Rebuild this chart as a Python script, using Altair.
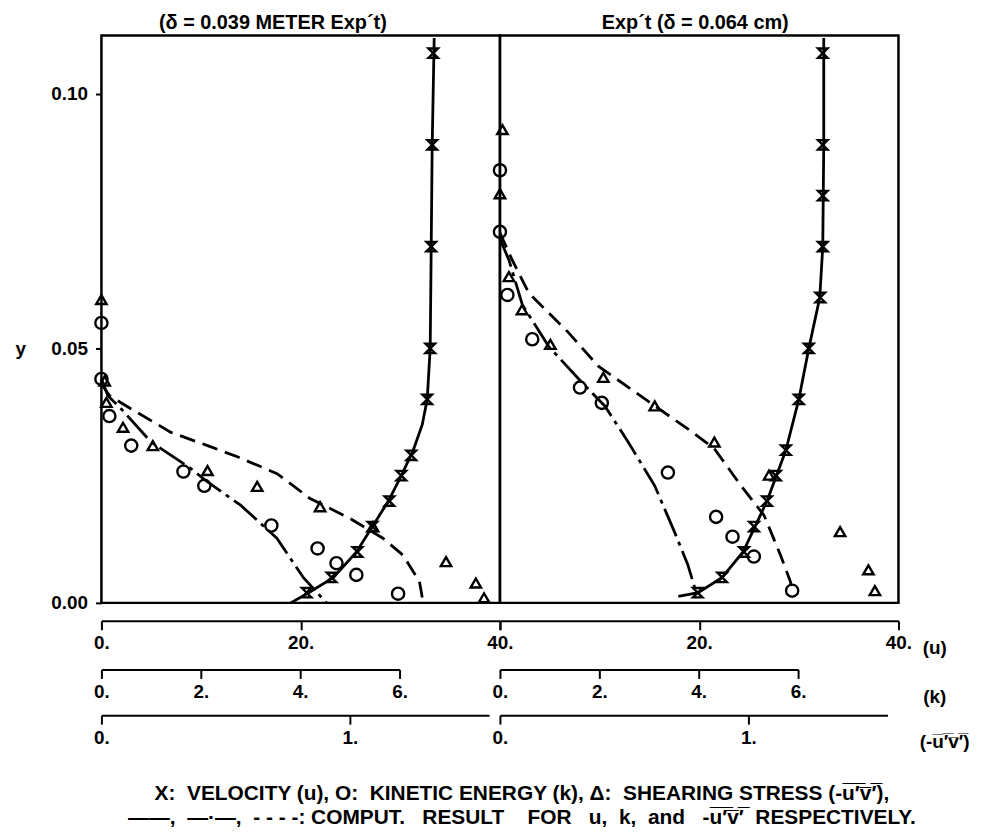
import altair as alt
import pandas as pd

# ---------------- data ----------------
# tick values of the stacked scales
U_TICKS = [0, 20, 40]
K_TICKS = [0, 2, 4, 6]
UV_TICKS = [0, 1]
Y_TICKS = [0.0, 0.05, 0.10]

# Left panel  (delta = 0.039 m)
L_U_Y = [0.108, 0.090, 0.070, 0.050, 0.040, 0.029, 0.025, 0.020, 0.015, 0.010, 0.005, 0.002]
L_U = [33.3, 33.2, 33.1, 33.0, 32.7, 31.1, 30.1, 28.9, 27.2, 25.7, 23.1, 20.6]
L_U_LINE_Y = [0.111, 0.090, 0.070, 0.050, 0.040, 0.035, 0.030, 0.025, 0.020, 0.015, 0.010, 0.005, 0.002, 0.0]
L_U_LINE = [33.4, 33.2, 33.1, 33.0, 32.7, 32.2, 31.3, 30.1, 28.8, 27.2, 25.6, 23.3, 20.8, 19.0]

L_K_Y = [0.055, 0.044, 0.0367, 0.0309, 0.0258, 0.0230, 0.0152, 0.0107, 0.0078, 0.0055, 0.0018]
L_K = [0.0, 0.0, 0.16, 0.60, 1.65, 2.07, 3.42, 4.35, 4.73, 5.13, 5.97]
L_K_LINE_Y = [0.044, 0.0407, 0.0381, 0.0316, 0.0264, 0.0238, 0.0192, 0.0127, 0.0049, 0.0]
L_K_LINE = [0.0, 0.13, 0.40, 1.00, 1.80, 2.13, 2.80, 3.53, 4.07, 4.53]

L_UV_Y = [0.0596, 0.0436, 0.0394, 0.0345, 0.0309, 0.0260, 0.0229, 0.0189, 0.0150, 0.0081, 0.0039, 0.0010]
L_UV = [0.0, 0.013, 0.020, 0.087, 0.207, 0.427, 0.627, 0.880, 1.093, 1.387, 1.507, 1.540]
L_UV_LINE_Y = [0.043, 0.0407, 0.0381, 0.0335, 0.0309, 0.0287, 0.0254, 0.0205, 0.0166, 0.0127, 0.0094, 0.0042, 0.0006]
L_UV_LINE = [0.0, 0.033, 0.120, 0.280, 0.427, 0.547, 0.707, 0.840, 1.000, 1.133, 1.213, 1.280, 1.293]

# Right panel  (delta = 0.064 cm)
R_U_Y = [0.108, 0.090, 0.080, 0.070, 0.060, 0.050, 0.040, 0.030, 0.025, 0.020, 0.015, 0.010, 0.005, 0.002]
R_U = [32.4, 32.4, 32.4, 32.4, 32.15, 31.0, 30.0, 28.7, 27.7, 26.8, 25.5, 24.5, 22.3, 19.85]
R_U_LINE_Y = [0.111, 0.090, 0.070, 0.060, 0.050, 0.040, 0.030, 0.020, 0.015, 0.010, 0.005, 0.002, 0.0013]
R_U_LINE = [32.5, 32.5, 32.4, 32.1, 31.0, 30.0, 28.7, 26.8, 25.6, 24.4, 22.3, 19.9, 17.9]

R_K_Y = [0.085, 0.0729, 0.0605, 0.0518, 0.0423, 0.0393, 0.0256, 0.0169, 0.0130, 0.0091, 0.0024]
R_K = [0.0, 0.0, 0.15, 0.65, 1.61, 2.05, 3.38, 4.35, 4.68, 5.11, 5.88]
R_K_LINE_Y = [0.0715, 0.0674, 0.0586, 0.0504, 0.0433, 0.0387, 0.0316, 0.0231, 0.0140, 0.0075, 0.0020]
R_K_LINE = [0.0, 0.18, 0.45, 0.98, 1.65, 2.11, 2.58, 3.11, 3.51, 3.78, 3.95]

R_UV_Y = [0.093, 0.0804, 0.0641, 0.0576, 0.0508, 0.0443, 0.0387, 0.0316, 0.0251, 0.0140, 0.0065, 0.0024]
R_UV = [0.01, 0.0, 0.036, 0.089, 0.203, 0.416, 0.623, 0.863, 1.083, 1.369, 1.483, 1.509]
R_UV_LINE_Y = [0.0727, 0.0674, 0.0609, 0.0531, 0.0465, 0.0387, 0.0342, 0.0303, 0.0231, 0.0172, 0.0094, 0.0042, 0.0023]
R_UV_LINE = [0.0, 0.049, 0.116, 0.276, 0.396, 0.623, 0.756, 0.863, 0.969, 1.063, 1.129, 1.169, 1.176]

TITLE_L = "(δ = 0.039 METER Exp´t)"
TITLE_R = "Exp´t (δ = 0.064 cm)"
OV = "\u0305"
NB = "\u00a0"
UV_TXT = "u" + OV + "′" + OV + "v" + OV + "′" + OV
FOOT = [
    "X:" + NB * 2 + "VELOCITY (u), O:" + NB * 2 + "KINETIC ENERGY (k), "
    + "Δ:" + NB * 2 + "SHEARING STRESS (-" + UV_TXT + "),",
    "——," + NB * 2 + "—·—," + NB * 2 + "- - - -:" + NB + "COMPUT." + NB * 3 + "RESULT" + NB * 4
    + "FOR" + NB * 3 + "u," + NB * 2 + "k," + NB * 2 + "and" + NB * 3 + "-" + UV_TXT + NB * 2
    + "RESPECTIVELY.",
]

# ---------------- styling ----------------
FONT = "Liberation Sans"
W, H = 401, 571
Y_MAX = 0.1115
YS = alt.Scale(domain=[0, Y_MAX], nice=False, zero=False)

U_DOM, U_RNG = [0, 40], [0, 401]
K_DOM, K_RNG = [0, 6], [0, 300]
UV_DOM, UV_RNG = [0, 1.56], [0, 390]

X_SHAPE = "M-1,-1L1,-1L-1,1L1,1Z"


def frame(xs, ys):
    return pd.DataFrame({"x": xs, "y": ys, "i": list(range(len(xs)))})


def y_axis(show):
    if not show:
        return None
    return alt.Axis(values=Y_TICKS, format=".2f", tickSize=6, tickWidth=2, tickColor="black",
                    labelPadding=8, domain=False, grid=False,
                    title="y", titleAngle=0, titleX=-87, titleY=315, titleAlign="left",
                    titleBaseline="middle")


def x_axis(values, offset, expr, title="", tx=0):
    kw = dict(orient="bottom", offset=offset, values=values, labelExpr=expr,
              tickSize=9, tickWidth=2, tickColor="black", domainWidth=2, domainColor="black",
              labelPadding=4, grid=False, labelFlush=False, labelOverlap=False, labelBound=False)
    if title:
        kw.update(title=title, titleAngle=0, titleX=tx, titleY=27, titleAlign="center",
                  titleBaseline="middle")
    else:
        kw["title"] = None
    return alt.Axis(**kw)


def top_axis(text, tx):
    # panel heading, carried by an otherwise empty top axis
    return alt.Axis(orient="top", values=[], domain=False, ticks=False, labels=False, grid=False,
                    title=text, titleAngle=0, titleX=tx, titleY=-13, titleAlign="center",
                    titleBaseline="middle", titleFontSize=20)


def curve(d, dom, rng, axis, yshow, dash=None):
    mk = dict(color="black", strokeWidth=2.8)
    if dash:
        mk["strokeDash"] = dash
    return alt.Chart(d).mark_line(**mk).encode(
        x=alt.X("x:Q", scale=alt.Scale(domain=dom, range=rng, nice=False, zero=False), axis=axis),
        y=alt.Y("y:Q", scale=YS, axis=y_axis(yshow)),
        order="i:Q",
    )


def points(d, dom, rng, shape, size, yshow, axis=None, sw=2.4):
    return alt.Chart(d).mark_point(shape=shape, size=size, filled=False, color="black",
                                   strokeWidth=sw, opacity=1).encode(
        x=alt.X("x:Q", scale=alt.Scale(domain=dom, range=rng, nice=False, zero=False), axis=axis),
        y=alt.Y("y:Q", scale=YS, axis=y_axis(yshow)),
    )


def panel(side):
    left = side == "L"
    g = globals()
    p = side + "_"
    uexpr = "datum.value + '.'" if left else "datum.value == 0 ? '' : datum.value + '.'"
    if left:
        ax_u = x_axis(U_TICKS, 18, uexpr)
        ax_k = x_axis(K_TICKS, 67, "datum.value + '.'")
        ax_uv = x_axis(UV_TICKS, 113, "datum.value + '.'")
        ax_top = top_axis(TITLE_L, 172)
    else:
        ax_u = x_axis(U_TICKS, 18, uexpr, "(u)", 437)
        ax_k = x_axis(K_TICKS, 67, "datum.value + '.'", "(k)", 437)
        ax_uv = x_axis(UV_TICKS, 113, "datum.value + '.'", "(-" + UV_TXT + ")", 447)
        ax_top = top_axis(TITLE_R, 196)
    layers = [
        curve(frame(g[p + "U_LINE"], g[p + "U_LINE_Y"]), U_DOM, U_RNG, ax_u, left),
        points(frame(g[p + "U"], g[p + "U_Y"]), U_DOM, U_RNG, X_SHAPE, 90, left, ax_top),
        curve(frame(g[p + "K_LINE"], g[p + "K_LINE_Y"]), K_DOM, K_RNG, ax_k, left, [30, 6, 4, 6]),
        points(frame(g[p + "K"], g[p + "K_Y"]), K_DOM, K_RNG, "circle", 150, left),
        curve(frame(g[p + "UV_LINE"], g[p + "UV_LINE_Y"]), UV_DOM, UV_RNG, ax_uv, left, [16, 8]),
        points(frame(g[p + "UV"], g[p + "UV_Y"]), UV_DOM, UV_RNG, "triangle-up", 110, left),
    ]
    return alt.layer(*layers).resolve_scale(x="independent").resolve_axis(x="independent").properties(
        width=W, height=H)


chart = alt.hconcat(panel("L"), panel("R"), spacing=0, bounds="flush").resolve_scale(
    x="independent"
).properties(
    title=alt.TitleParams(FOOT, orient="bottom", anchor="middle", dx=30, offset=30, lineHeight=24,
                          fontSize=21),
    padding={"left": 5, "top": 0, "right": 5, "bottom": 5},
).configure_view(
    stroke="black", strokeWidth=2.5
).configure_axis(
    labelFont=FONT, labelFontSize=19, labelFontWeight="bold", labelColor="black",
    titleFont=FONT, titleFontSize=19, titleFontWeight="bold", titleColor="black",
).configure_title(
    font=FONT, fontSize=20, fontWeight="bold", color="black"
)

chart.save("out.html", embed_options={"renderer": "svg", "actions": False})
